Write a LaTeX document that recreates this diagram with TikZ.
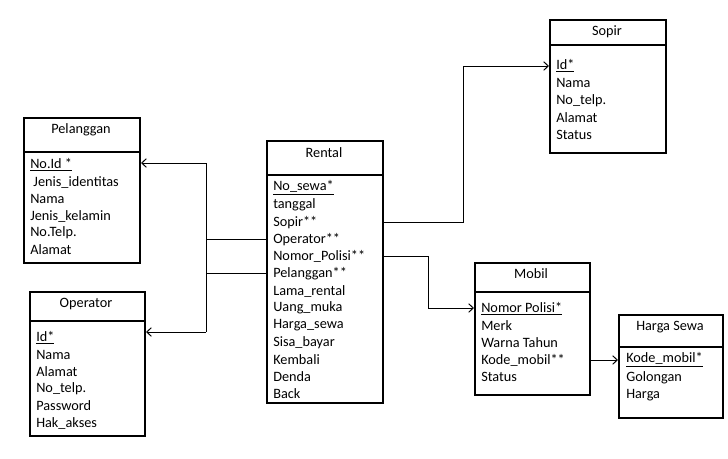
\documentclass[tikz,border=0pt]{standalone}
\usepackage{fontspec}
\setmainfont{Carlito}
\usetikzlibrary{arrows.meta}
\begin{document}
\begin{tikzpicture}[x=0.75pt,y=-0.75pt,
  ebox/.style={draw, line width=1.5pt, anchor=north west, inner sep=0pt},
  divider/.style={line width=0.8pt},
  attr/.style={anchor=west, inner sep=0pt, font=\fontsize{10.7}{12}\selectfont},
  ttl/.style={inner sep=0pt, font=\fontsize{10.7}{12}\selectfont},
  link/.style={line width=0.75pt},
  conn/.style={line width=0.75pt, -{Straight Barb[length=3.5pt,width=6.5pt]}}]
\useasboundingbox (0,0) rectangle (728,458);

% Pelanggan
\node[ebox, minimum width=87pt, minimum height=108.75pt] (pel) at (23,117) {};
\draw[divider] (23,152) -- (139,152);
\node[ttl] (pelt) at (81,130) {Pelanggan};
\foreach \t [count=\i] in {{\underline{No.Id *}}, {\ Jenis\_identitas}, Nama, {Jenis\_kelamin}, {No.Telp.}, Alamat}
  \node[attr] (p\i) at (30,{165+(\i-1)*17}) {\t};

% Operator
\node[ebox, minimum width=86.25pt, minimum height=108pt] (op) at (29,291) {};
\draw[divider] (29,321) -- (144,321);
\node[ttl] (opt) at (86,304) {Operator};
\foreach \t [count=\i] in {{\underline{Id*}}, Nama, Alamat, {No\_telp.}, Password, {Hak\_akses}}
  \node[attr] (o\i) at (36,{338+(\i-1)*17}) {\t};

% Rental
\node[ebox, minimum width=87pt, minimum height=196.5pt] (ren) at (266,140) {};
\draw[divider] (266,175) -- (382,175);
\node[ttl] (rent) at (324,153) {Rental};
\foreach \t [count=\i] in {{\underline{No\_sewa*}}, tanggal, {Sopir**}, {Operator**}, {Nomor\_Polisi**}, {Pelanggan**}, {Lama\_rental}, {Uang\_muka}, {Harga\_sewa}, {Sisa\_bayar}, Kembali, Denda, Back}
  \node[attr] (r\i) at (273,{188+(\i-1)*17.17}) {\t};

% Sopir
\node[ebox, minimum width=87pt, minimum height=99.75pt] (sop) at (549,19) {};
\draw[divider] (549,45) -- (665,45);
\node[ttl] (sopt) at (607,32) {Sopir};
\foreach \t [count=\i] in {{\underline{Id*}}, Nama, {No\_telp.}, Alamat, Status}
  \node[attr] (s\i) at (556,{66+(\i-1)*17.25}) {\t};

% Mobil
\node[ebox, minimum width=86.25pt, minimum height=99pt] (mob) at (474,262) {};
\draw[divider] (474,292) -- (589,292);
\node[ttl] (mobt) at (531,274) {Mobil};
\foreach \t [count=\i] in {{\underline{Nomor Polisi*}}, Merk, {Warna Tahun}, {Kode\_mobil**}, Status}
  \node[attr] (m\i) at (481,{309+(\i-1)*17}) {\t};

% Harga Sewa
\node[ebox, minimum width=78pt, minimum height=77.25pt] (hs) at (618,314) {};
\draw[divider] (618,347) -- (722,347);
\node[ttl] (hst) at (670,327) {Harga Sewa};
\foreach \t [count=\i] in {{\underline{Kode\_mobil*}}, Golongan, Harga}
  \node[attr] (h\i) at (626,{360+(\i-1)*17.5}) {\t};

% connectors
\coordinate (j1) at (206,163);
\coordinate (j2) at (206,332);
\draw[link] (ren.west |- r4) -- (j1 |- r4);
\draw[link] (ren.west |- r6) -- (j1 |- r6);
\draw[link] (j1) -- (j2);
\draw[conn] (j1) -- (pel.east |- j1);
\draw[conn] (j2) -- (op.east |- j2);

\coordinate (k1) at (463,66);
\coordinate (k2) at (428,308);
\draw[link] (ren.east |- r3) -| (k1);
\draw[conn] (k1) -- (sop.west |- k1);
\draw[link] (ren.east |- r5) -| (k2);
\draw[conn] (k2) -- (mob.west |- k2);
\draw[conn] (mob.east |- m4) -- (hs.west |- m4);
\end{tikzpicture}
\end{document}
